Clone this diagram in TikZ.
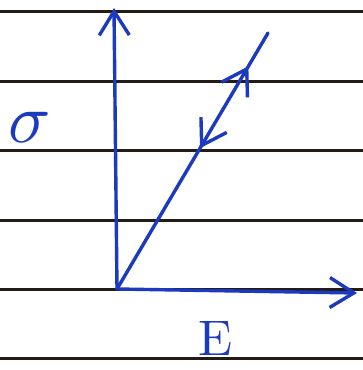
\documentclass[tikz,border=0pt]{standalone}
\usepackage{graphicx}
\usepackage{xcolor}
\usepackage{tikz}
\usetikzlibrary{arrows.meta, decorations.markings}
\definecolor{inkblue}{RGB}{28,58,190}
\definecolor{ruleblack}{RGB}{35,28,22}

\begin{document}
\begin{tikzpicture}[x=1pt, y=-1pt,
    ruling/.style={ruleblack, line width=3pt},
    ink/.style={inkblue, line width=3.4pt, line cap=round, line join=round},
    barb/.tip={Straight Barb[length=24pt, width=30pt, line width=3.4pt]},
    label/.style={inkblue, inner sep=0pt}]
  \useasboundingbox (0,0) rectangle (363,370);
  \fill[white] (0,0) rectangle (363,370);
  % Ruled lines
  \foreach \y in {11, 81, 150, 220, 289, 358}
    \draw[ruling] (0,\y) -- (363,\y);
  % Axes
  \coordinate (O) at (117,289);
  \coordinate (ytop) at (114,8);
  \coordinate (xend) at (357,293);
  \coordinate (dend) at (268,33);
  \draw[ink, -{barb}] (O) -- (ytop);
  \draw[ink, -{barb}] (O) -- (xend);
  % Loading line with arrows both ways
  \draw[ink, postaction={decorate}, decoration={markings,
      mark=at position 0.87 with {\arrow{barb}},
      mark=at position 0.55 with {\arrowreversed{barb}}}]
    (O) -- (dend);
  % Labels
  \node[label] (sigma) at (30,127) {\scalebox{7}{$\sigma$}};
  \node[label] (eps) at (216,338) {\scalebox{5}{E}};
\end{tikzpicture}
\end{document}
